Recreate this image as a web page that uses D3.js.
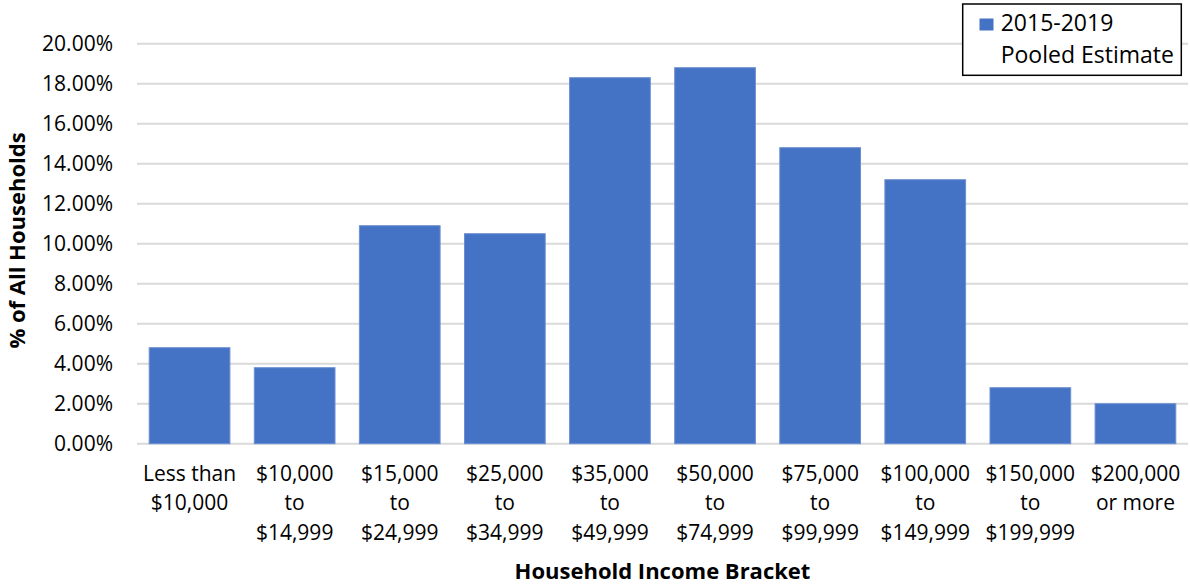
<!DOCTYPE html>
<html><head><meta charset="utf-8">
<script src="https://cdn.jsdelivr.net/npm/d3@7"></script>
<style>
html,body{margin:0;padding:0;background:#fff;}
svg{display:block;}
text{font-family:"Open Sans",sans-serif;fill:#000;}
</style></head>
<body>
<svg id="chart" width="1190" height="586"></svg>
<script>
const categories = [
  ["Less than","$10,000"],
  ["$10,000","to","$14,999"],
  ["$15,000","to","$24,999"],
  ["$25,000","to","$34,999"],
  ["$35,000","to","$49,999"],
  ["$50,000","to","$74,999"],
  ["$75,000","to","$99,999"],
  ["$100,000","to","$149,999"],
  ["$150,000","to","$199,999"],
  ["$200,000","or more"]
];
const values = [4.8, 3.8, 10.9, 10.5, 18.3, 18.8, 14.8, 13.2, 2.8, 2.0];
const yTicks = [0, 2, 4, 6, 8, 10, 12, 14, 16, 18, 20];
const seriesName = ["2015-2019", "Pooled Estimate"];
const xTitle = "Household Income Bracket";
const yTitle = "% of All Households";

const svg = d3.select("#chart");
const pLeft = 137, pRight = 1188, pTop = 43.7, pBottom = 443.7;

const x = d3.scaleBand().domain(d3.range(categories.length)).range([pLeft, pRight])
  .paddingInner(0.232).paddingOuter(0.116);
const y = d3.scaleLinear().domain([0, 20]).range([pBottom, pTop]);

// gridlines
svg.append("g").selectAll("line").data(yTicks).join("line")
  .attr("x1", pLeft).attr("x2", pRight)
  .attr("y1", d => y(d)).attr("y2", d => y(d))
  .attr("stroke", "#d9d9d9").attr("stroke-width", 2);

// y tick labels
svg.append("g").selectAll("text").data(yTicks).join("text")
  .attr("x", 113).attr("y", d => y(d)).attr("dy", "0.36em")
  .attr("text-anchor", "end").style("font-size", "21px")
  .text(d => d.toFixed(2) + "%");

// bars
svg.append("g").selectAll("rect").data(values).join("rect")
  .attr("x", (d, i) => x(i)).attr("width", x.bandwidth())
  .attr("y", d => y(d)).attr("height", d => y(0) - y(d))
  .attr("fill", "#4472c4").attr("stroke", "#6d8fd2").attr("stroke-width", 1);

// x labels
const xl = svg.append("g").selectAll("text").data(categories).join("text")
  .attr("x", (d, i) => x(i) + x.bandwidth() / 2).attr("y", 480.7)
  .attr("text-anchor", "middle").style("font-size", "21px");
xl.each(function(lines, i) {
  const t = d3.select(this);
  lines.forEach((l, j) => {
    t.append("tspan").attr("x", x(i) + x.bandwidth() / 2).attr("y", 480.7 + j * 29.7).text(l);
  });
});

// axis titles
svg.append("text").attr("x", (pLeft + pRight) / 2).attr("y", 579)
  .attr("text-anchor", "middle").style("font-size", "22px").style("font-weight", "bold")
  .text(xTitle);
svg.append("text").attr("transform", "translate(25,240.5) rotate(-90)")
  .attr("text-anchor", "middle").style("font-size", "22px").style("font-weight", "bold")
  .text(yTitle);

// legend
const lg = svg.append("g");
lg.append("rect").attr("x", 962.7).attr("y", 4).attr("width", 218.6).attr("height", 71.3)
  .attr("fill", "#fff").attr("stroke", "#000").attr("stroke-width", 1.5);
lg.append("rect").attr("x", 979.5).attr("y", 18.5).attr("width", 14).attr("height", 12)
  .attr("fill", "#4472c4");
lg.append("text").attr("x", 1000.7).attr("y", 31).style("font-size", "23px").text(seriesName[0]);
lg.append("text").attr("x", 1000.7).attr("y", 63).style("font-size", "23px").text(seriesName[1]);
</script>
</body></html>
